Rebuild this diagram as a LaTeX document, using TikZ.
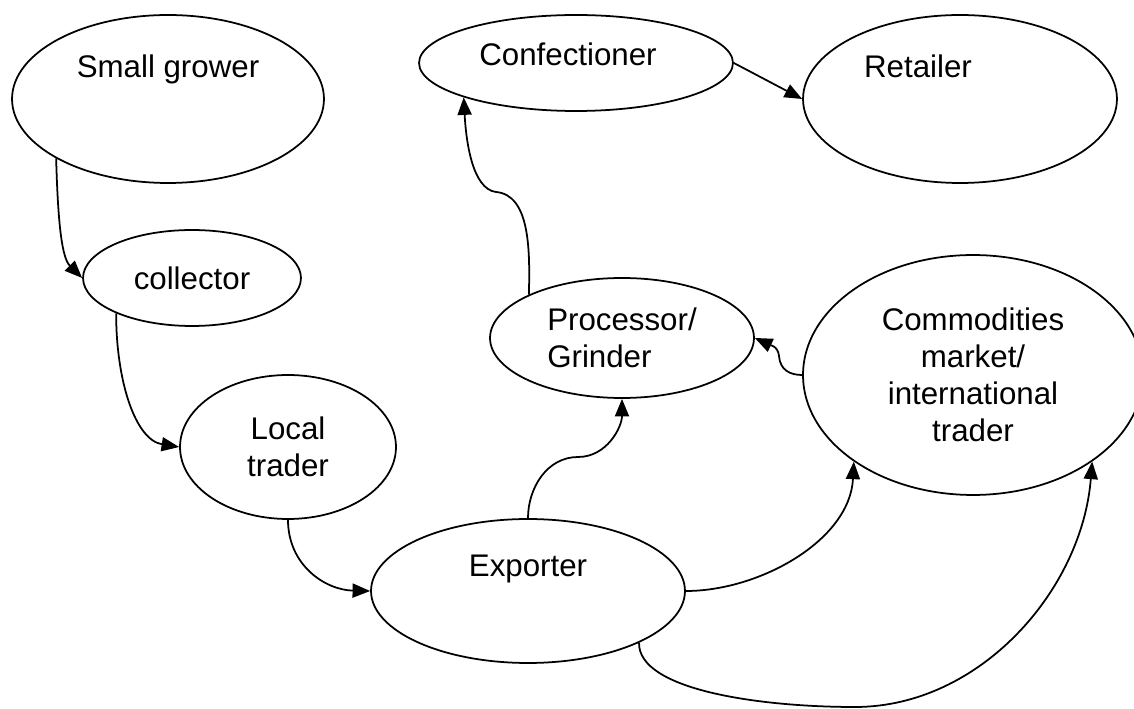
\documentclass[tikz,border=0pt]{standalone}
\usepackage{fontspec}
\setmainfont{Liberation Sans}
\usetikzlibrary{arrows.meta,shapes.geometric}

\begin{document}
\begin{tikzpicture}[
  x=0.02cm, y=-0.02cm,
  blob/.style={ellipse, draw, line width=1pt, inner sep=0pt, align=center, font=\fontsize{17.8pt}{21pt}\selectfont},
  txt/.style={inner sep=0pt, font=\fontsize{17.8pt}{21pt}\selectfont},
  arr/.style={-{Triangle[length=10pt,width=8pt]}, line width=1pt}
]
  \fill[white] (0,0) rectangle (1134,709);
  \useasboundingbox (0,0) rectangle (1134,709);

  % --- 1. SUPPLY SIDE (left) ---
  \node[blob, minimum width=6.24cm, minimum height=3.36cm, label={[txt, yshift=0.6cm]center:Small grower}] (grower) at (168,99) {};
  \node[blob, minimum width=4.36cm, minimum height=1.92cm] (collector) at (192,278) {collector};
  \node[blob, minimum width=4.32cm, minimum height=2.88cm] (local) at (288,447) {Local\\trader};
  \node[blob, minimum width=6.28cm, minimum height=2.88cm, label={[txt, yshift=0.44cm]center:Exporter}] (exporter) at (528,591) {};

  % --- 2. DEMAND SIDE (right) ---
  \node[blob, minimum width=5.28cm, minimum height=2.4cm, align=left] (processor) at (622,338) {Processor/\\Grinder};
  \node[blob, minimum width=6.8cm, minimum height=4.8cm] (commod) at (973,375) {Commodities\\market/\\international\\trader};
  \node[blob, minimum width=6.28cm, minimum height=1.92cm, label={[txt, xshift=-0.16cm, yshift=0.18cm]center:Confectioner}] (conf) at (576,63) {};
  \node[blob, minimum width=6.28cm, minimum height=3.36cm, label={[txt, xshift=-0.84cm, yshift=0.66cm]center:Retailer}] (retailer) at (960,99) {};

  \coordinate (bend1) at (578,457);
  \coordinate (bend2) at (496,192);
  \coordinate (bend3) at (779,356);
  \coordinate (low) at (855,707);

  % chain down to the exporter
  \draw[arr] (grower.208) .. controls (58,225) and (62,258) .. (collector.west);
  \draw[arr] (collector.205) .. controls (116,380) and (135,440) .. (local.west);
  \draw[arr] (local.south) .. controls (288,565) and (325,590) .. (exporter.west);

  % exporter outwards
  \draw[arr] (exporter.north) .. controls (528,488) and (547,457) .. (bend1)
    .. controls (607,457) and (622,427) .. (processor.south);
  \draw[arr] (exporter.east) .. controls (760,591) and (850,540) .. (commod.216);
  \draw[arr] (exporter.335) .. controls (638,690) and (760,707) .. (low)
    .. controls (980,707) and (1082,590) .. (commod.324);

  % market back to processor, then on to the shops
  \draw[arr] (commod.west) .. controls (790,375) and (780,370) .. (bend3)
    .. controls (778,346) and (770,345) .. (processor.east);
  \draw[arr] (processor.155) .. controls (530,250) and (530,195) .. (bend2)
    .. controls (472,189) and (466,140) .. (conf.197);
  \draw[arr] (conf.east) -- (retailer.west);

\end{tikzpicture}
\end{document}
